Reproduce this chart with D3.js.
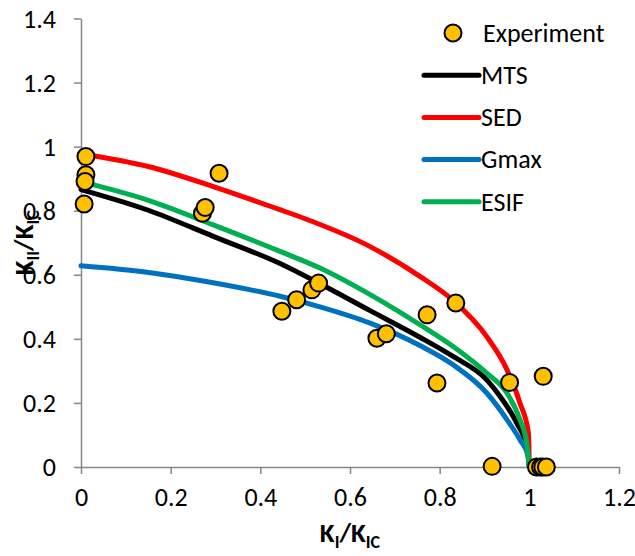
<!DOCTYPE html>
<html>
<head>
<meta charset="utf-8">
<script src="https://cdn.jsdelivr.net/npm/d3@7"></script>
<style>
  html, body { margin: 0; padding: 0; background: #fff; }
  svg { display: block; font-family: Carlito, Calibri, 'Open Sans', sans-serif; }
</style>
</head>
<body>
<div id="content"></div>
<script>
// data
const expX = [0.011, 0.011, 0.009, 0.007, 0.271, 0.277, 0.308, 0.448, 0.481, 0.515, 0.530,
  0.660, 0.681, 0.772, 0.836, 0.794, 0.956, 1.031, 0.917, 1.016, 1.025, 1.030, 1.038];
const expY = [0.969, 0.912, 0.891, 0.821, 0.792, 0.810, 0.917, 0.486, 0.522, 0.553, 0.574,
  0.402, 0.416, 0.475, 0.512, 0.262, 0.264, 0.283, 0.002, 0, 0, 0, 0];

const mtsX = [0, 0.147, 0.295, 0.444, 0.533, 0.645, 0.756, 0.83, 0.905, 0.935, 0.972, 0.994, 1.0];
const mtsY = [0.866, 0.803, 0.72, 0.635, 0.572, 0.488, 0.405, 0.345, 0.272, 0.22, 0.137, 0.064, 0];

const sedX = [0, 0.15, 0.3, 0.44, 0.5, 0.645, 0.756, 0.83, 0.905, 0.95, 0.979, 0.998, 1.0];
const sedY = [0.978, 0.938, 0.873, 0.805, 0.775, 0.688, 0.595, 0.52, 0.407, 0.304, 0.2, 0.106, 0];

const gmaxX = [0, 0.147, 0.295, 0.444, 0.533, 0.645, 0.756, 0.83, 0.905, 0.95, 0.979, 0.998, 1.0];
const gmaxY = [0.628, 0.608, 0.575, 0.533, 0.5, 0.449, 0.379, 0.319, 0.231, 0.148, 0.085, 0.033, 0];

const esifX = [0, 0.147, 0.295, 0.444, 0.533, 0.645, 0.756, 0.83, 0.905, 0.95, 0.979, 0.994, 1.0];
const esifY = [0.891, 0.834, 0.756, 0.673, 0.621, 0.538, 0.444, 0.376, 0.293, 0.231, 0.148, 0.075, 0];

const xTicks = [0, 0.2, 0.4, 0.6, 0.8, 1, 1.2];
const yTicks = [0, 0.2, 0.4, 0.6, 0.8, 1, 1.2, 1.4];

const seriesNames = ['MTS', 'SED', 'Gmax', 'ESIF'];
const seriesColors = ['#000000', '#FF0000', '#0070C0', '#00B050'];

const width = 635, height = 556;
const margin = { top: 18.5, right: 16, bottom: 89, left: 81 };

const svg = d3.select('#content').append('svg')
  .attr('width', width).attr('height', height)
  .attr('viewBox', [0, 0, width, height]);

const x = d3.scaleLinear().domain([0, 1.2]).range([margin.left, width - margin.right]);
const y = d3.scaleLinear().domain([0, 1.4]).range([height - margin.bottom, margin.top]);

// axes
const axisColor = '#868686';
const fmt = d => d3.format('~g')(d);

const gx = svg.append('g').attr('transform', `translate(0,${y(0)})`)
  .call(d3.axisBottom(x).tickValues(xTicks).tickFormat(fmt).tickSizeInner(7).tickSizeOuter(0).tickPadding(14));
const gy = svg.append('g').attr('transform', `translate(${x(0)},0)`)
  .call(d3.axisLeft(y).tickValues(yTicks).tickFormat(fmt).tickSizeInner(7).tickSizeOuter(0).tickPadding(18));

[gx, gy].forEach(g => {
  g.select('.domain').attr('stroke', axisColor).attr('stroke-width', 1.5);
  g.selectAll('.tick line').attr('stroke', axisColor).attr('stroke-width', 1.5);
  g.selectAll('.tick text').attr('fill', '#000').style('font-size', '26px')
    .style('font-family', "Carlito, Calibri, 'Open Sans', sans-serif");
});
gy.selectAll('.tick text').attr('dy', '0.34em');

// curves
const lineGen = d3.line().x(d => x(d[0])).y(d => y(d[1])).curve(d3.curveMonotoneX);
const curveData = [
  d3.zip(mtsX, mtsY),
  d3.zip(sedX, sedY),
  d3.zip(gmaxX, gmaxY),
  d3.zip(esifX, esifY)
];
curveData.forEach((pts, i) => {
  svg.append('path').attr('d', lineGen(pts))
    .attr('fill', 'none').attr('stroke', seriesColors[i])
    .attr('stroke-width', 5).attr('stroke-linejoin', 'round').attr('stroke-linecap', 'round');
});

// experiment points
svg.append('g').selectAll('circle')
  .data(d3.zip(expX, expY))
  .join('circle')
  .attr('cx', d => x(d[0])).attr('cy', d => y(d[1])).attr('r', 8.5)
  .attr('fill', '#FFC000').attr('stroke', '#000').attr('stroke-width', 2);

// legend
const legend = svg.append('g').attr('transform', 'translate(424,33)');
const rowH = 42.2;
legend.append('circle').attr('cx', 29).attr('cy', 0).attr('r', 8.5)
  .attr('fill', '#FFC000').attr('stroke', '#000').attr('stroke-width', 2);
legend.append('text').attr('x', 59).attr('y', 0).attr('dy', '0.34em')
  .style('font-size', '26px').text('Experiment');
seriesNames.forEach((name, i) => {
  const yy = (i + 1) * rowH;
  legend.append('line').attr('x1', 0).attr('x2', 55).attr('y1', yy).attr('y2', yy)
    .attr('stroke', seriesColors[i]).attr('stroke-width', 5).attr('stroke-linecap', 'round');
  legend.append('text').attr('x', 57).attr('y', yy).attr('dy', '0.34em')
    .style('font-size', '26px').text(name);
});

// axis titles
const xTitle = svg.append('text')
  .attr('x', (x(0) + x(1.2)) / 2).attr('y', 542)
  .attr('text-anchor', 'middle')
  .style('font-size', '27px').style('font-weight', 'bold');
xTitle.append('tspan').text('K');
xTitle.append('tspan').attr('dy', 6).style('font-size', '18px').text('I');
xTitle.append('tspan').attr('dy', -6).text('/K');
xTitle.append('tspan').attr('dy', 6).style('font-size', '18px').text('IC');

const yTitle = svg.append('text')
  .attr('transform', `translate(33,${(y(0) + y(1.4)) / 2}) rotate(-90)`)
  .attr('text-anchor', 'middle')
  .style('font-size', '27px').style('font-weight', 'bold');
yTitle.append('tspan').text('K');
yTitle.append('tspan').attr('dy', 6).style('font-size', '18px').text('II');
yTitle.append('tspan').attr('dy', -6).text('/K');
yTitle.append('tspan').attr('dy', 6).style('font-size', '18px').text('IC');
</script>
</body>
</html>
